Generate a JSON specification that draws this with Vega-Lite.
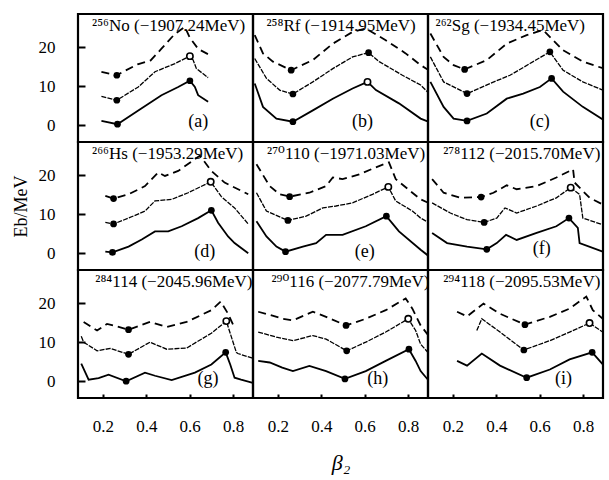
{
  "$schema": "https://vega.github.io/schema/vega-lite/v6.json",
  "background": "white",
  "padding": {"left": 10, "top": 12, "right": 0, "bottom": 5},
  "datasets": {"d": [
    {"p":"a","k":"meta","title":"²⁵⁶No (−1907.24MeV)","tag":"(a)"},
    {"p":"b","k":"meta","title":"²⁵⁸Rf (−1914.95MeV)","tag":"(b)"},
    {"p":"c","k":"meta","title":"²⁶²Sg (−1934.45MeV)","tag":"(c)"},
    {"p":"d","k":"meta","title":"²⁶⁶Hs (−1953.29MeV)","tag":"(d)"},
    {"p":"e","k":"meta","title":"²⁷⁰110 (−1971.03MeV)","tag":"(e)"},
    {"p":"f","k":"meta","title":"²⁷⁸112 (−2015.70MeV)","tag":"(f)"},
    {"p":"g","k":"meta","title":"²⁸⁴114 (−2045.96MeV)","tag":"(g)"},
    {"p":"h","k":"meta","title":"²⁹⁰116 (−2077.79MeV)","tag":"(h)"},
    {"p":"i","k":"meta","title":"²⁹⁴118 (−2095.53MeV)","tag":"(i)"},

    {"p":"a","k":"b","x":0.193,"y":1.1},{"p":"a","k":"b","x":0.267,"y":0.26},{"p":"a","k":"b","x":0.363,"y":3.8},{"p":"a","k":"b","x":0.47,"y":7.7},{"p":"a","k":"b","x":0.547,"y":9.8},{"p":"a","k":"b","x":0.601,"y":11.4},{"p":"a","k":"b","x":0.624,"y":9.8},{"p":"a","k":"b","x":0.639,"y":7.7},{"p":"a","k":"b","x":0.685,"y":6.0},
    {"p":"a","k":"m","x":0.193,"y":7.4},{"p":"a","k":"m","x":0.264,"y":6.4},{"p":"a","k":"m","x":0.363,"y":9.8},{"p":"a","k":"m","x":0.44,"y":13.7},{"p":"a","k":"m","x":0.532,"y":15.8},{"p":"a","k":"m","x":0.601,"y":17.7},{"p":"a","k":"m","x":0.616,"y":16.7},{"p":"a","k":"m","x":0.631,"y":14.5},{"p":"a","k":"m","x":0.685,"y":12.2},
    {"p":"a","k":"t","x":0.193,"y":13.7},{"p":"a","k":"t","x":0.264,"y":12.8},{"p":"a","k":"t","x":0.3,"y":13.9},{"p":"a","k":"t","x":0.36,"y":15.6},{"p":"a","k":"t","x":0.42,"y":16.6},{"p":"a","k":"t","x":0.47,"y":19.6},{"p":"a","k":"t","x":0.53,"y":23.3},{"p":"a","k":"t","x":0.578,"y":25.2},{"p":"a","k":"t","x":0.6,"y":22.5},{"p":"a","k":"t","x":0.64,"y":19.5},{"p":"a","k":"t","x":0.685,"y":18.2},
    {"p":"a","k":"f","x":0.264,"y":12.8},{"p":"a","k":"f","x":0.264,"y":6.4},{"p":"a","k":"f","x":0.267,"y":0.26},{"p":"a","k":"o","x":0.601,"y":17.7},{"p":"a","k":"f","x":0.601,"y":11.4},

    {"p":"b","k":"b","x":0.093,"y":10.7},{"p":"b","k":"b","x":0.131,"y":4.7},{"p":"b","k":"b","x":0.193,"y":1.7},{"p":"b","k":"b","x":0.269,"y":0.9},{"p":"b","k":"b","x":0.361,"y":3.8},{"p":"b","k":"b","x":0.453,"y":6.8},{"p":"b","k":"b","x":0.544,"y":9.4},{"p":"b","k":"b","x":0.613,"y":11.1},{"p":"b","k":"b","x":0.652,"y":9.0},{"p":"b","k":"b","x":0.758,"y":5.6},{"p":"b","k":"b","x":0.858,"y":1.7},{"p":"b","k":"b","x":0.89,"y":1.0},
    {"p":"b","k":"m","x":0.093,"y":17.1},{"p":"b","k":"m","x":0.147,"y":12.0},{"p":"b","k":"m","x":0.208,"y":9.0},{"p":"b","k":"m","x":0.269,"y":8.0},{"p":"b","k":"m","x":0.361,"y":11.1},{"p":"b","k":"m","x":0.453,"y":14.5},{"p":"b","k":"m","x":0.544,"y":17.5},{"p":"b","k":"m","x":0.618,"y":18.6},{"p":"b","k":"m","x":0.667,"y":16.3},{"p":"b","k":"m","x":0.774,"y":12.8},{"p":"b","k":"m","x":0.858,"y":10.3},{"p":"b","k":"m","x":0.89,"y":8.5},
    {"p":"b","k":"t","x":0.093,"y":23.1},{"p":"b","k":"t","x":0.131,"y":18.4},{"p":"b","k":"t","x":0.177,"y":16.3},{"p":"b","k":"t","x":0.261,"y":14.1},{"p":"b","k":"t","x":0.361,"y":16.7},{"p":"b","k":"t","x":0.453,"y":20.9},{"p":"b","k":"t","x":0.544,"y":23.9},{"p":"b","k":"t","x":0.605,"y":24.8},{"p":"b","k":"t","x":0.697,"y":21.8},{"p":"b","k":"t","x":0.789,"y":18.4},{"p":"b","k":"t","x":0.858,"y":15.4},{"p":"b","k":"t","x":0.89,"y":14.3},
    {"p":"b","k":"f","x":0.261,"y":14.1},{"p":"b","k":"f","x":0.269,"y":8.0},{"p":"b","k":"f","x":0.269,"y":0.9},{"p":"b","k":"f","x":0.618,"y":18.6},{"p":"b","k":"o","x":0.613,"y":11.1},

    {"p":"c","k":"b","x":0.096,"y":11.1},{"p":"c","k":"b","x":0.157,"y":4.7},{"p":"c","k":"b","x":0.203,"y":1.7},{"p":"c","k":"b","x":0.265,"y":1.1},{"p":"c","k":"b","x":0.356,"y":3.0},{"p":"c","k":"b","x":0.448,"y":6.8},{"p":"c","k":"b","x":0.524,"y":8.1},{"p":"c","k":"b","x":0.601,"y":9.8},{"p":"c","k":"b","x":0.655,"y":12.0},{"p":"c","k":"b","x":0.708,"y":8.6},{"p":"c","k":"b","x":0.799,"y":4.7},{"p":"c","k":"b","x":0.891,"y":1.5},
    {"p":"c","k":"m","x":0.096,"y":17.5},{"p":"c","k":"m","x":0.157,"y":11.1},{"p":"c","k":"m","x":0.265,"y":8.1},{"p":"c","k":"m","x":0.371,"y":10.7},{"p":"c","k":"m","x":0.463,"y":12.8},{"p":"c","k":"m","x":0.555,"y":15.8},{"p":"c","k":"m","x":0.647,"y":18.8},{"p":"c","k":"m","x":0.708,"y":14.1},{"p":"c","k":"m","x":0.799,"y":11.1},{"p":"c","k":"m","x":0.891,"y":9.0},
    {"p":"c","k":"t","x":0.096,"y":23.5},{"p":"c","k":"t","x":0.157,"y":17.5},{"p":"c","k":"t","x":0.203,"y":15.4},{"p":"c","k":"t","x":0.254,"y":14.3},{"p":"c","k":"t","x":0.356,"y":16.7},{"p":"c","k":"t","x":0.448,"y":20.9},{"p":"c","k":"t","x":0.54,"y":23.1},{"p":"c","k":"t","x":0.616,"y":24.4},{"p":"c","k":"t","x":0.708,"y":19.2},{"p":"c","k":"t","x":0.799,"y":16.3},{"p":"c","k":"t","x":0.891,"y":14.6},
    {"p":"c","k":"f","x":0.254,"y":14.3},{"p":"c","k":"f","x":0.265,"y":8.1},{"p":"c","k":"f","x":0.265,"y":1.1},{"p":"c","k":"f","x":0.647,"y":18.8},{"p":"c","k":"f","x":0.655,"y":12.0},

    {"p":"d","k":"b","x":0.211,"y":0.4},{"p":"d","k":"b","x":0.244,"y":0.2},{"p":"d","k":"b","x":0.318,"y":1.7},{"p":"d","k":"b","x":0.379,"y":3.5},{"p":"d","k":"b","x":0.44,"y":5.6},{"p":"d","k":"b","x":0.501,"y":5.6},{"p":"d","k":"b","x":0.563,"y":6.9},{"p":"d","k":"b","x":0.639,"y":9.0},{"p":"d","k":"b","x":0.7,"y":11.0},{"p":"d","k":"b","x":0.731,"y":7.8},{"p":"d","k":"b","x":0.777,"y":4.3},{"p":"d","k":"b","x":0.807,"y":2.6},{"p":"d","k":"b","x":0.87,"y":0.0},
    {"p":"d","k":"m","x":0.211,"y":7.9},{"p":"d","k":"m","x":0.249,"y":7.5},{"p":"d","k":"m","x":0.318,"y":9.0},{"p":"d","k":"m","x":0.394,"y":10.8},{"p":"d","k":"m","x":0.44,"y":13.4},{"p":"d","k":"m","x":0.517,"y":13.8},{"p":"d","k":"m","x":0.593,"y":15.5},{"p":"d","k":"m","x":0.697,"y":18.3},{"p":"d","k":"m","x":0.746,"y":14.5},{"p":"d","k":"m","x":0.807,"y":11.6},{"p":"d","k":"m","x":0.87,"y":7.5},
    {"p":"d","k":"t","x":0.211,"y":14.7},{"p":"d","k":"t","x":0.249,"y":14.0},{"p":"d","k":"t","x":0.318,"y":15.1},{"p":"d","k":"t","x":0.394,"y":17.2},{"p":"d","k":"t","x":0.455,"y":20.7},{"p":"d","k":"t","x":0.486,"y":19.8},{"p":"d","k":"t","x":0.547,"y":21.1},{"p":"d","k":"t","x":0.624,"y":24.1},{"p":"d","k":"t","x":0.647,"y":25.0},{"p":"d","k":"t","x":0.7,"y":21.1},{"p":"d","k":"t","x":0.761,"y":18.1},{"p":"d","k":"t","x":0.87,"y":15.1},
    {"p":"d","k":"f","x":0.249,"y":14.0},{"p":"d","k":"f","x":0.249,"y":7.5},{"p":"d","k":"f","x":0.244,"y":0.2},{"p":"d","k":"o","x":0.697,"y":18.3},{"p":"d","k":"f","x":0.7,"y":11.0},

    {"p":"e","k":"b","x":0.101,"y":8.2},{"p":"e","k":"b","x":0.147,"y":4.3},{"p":"e","k":"b","x":0.193,"y":1.7},{"p":"e","k":"b","x":0.235,"y":0.4},{"p":"e","k":"b","x":0.315,"y":1.7},{"p":"e","k":"b","x":0.376,"y":2.6},{"p":"e","k":"b","x":0.422,"y":4.7},{"p":"e","k":"b","x":0.498,"y":4.7},{"p":"e","k":"b","x":0.605,"y":6.9},{"p":"e","k":"b","x":0.7,"y":9.5},{"p":"e","k":"b","x":0.758,"y":5.6},{"p":"e","k":"b","x":0.858,"y":0.9},{"p":"e","k":"b","x":0.89,"y":-0.5},
    {"p":"e","k":"m","x":0.101,"y":15.5},{"p":"e","k":"m","x":0.147,"y":10.8},{"p":"e","k":"m","x":0.246,"y":8.4},{"p":"e","k":"m","x":0.33,"y":9.5},{"p":"e","k":"m","x":0.407,"y":11.6},{"p":"e","k":"m","x":0.468,"y":12.1},{"p":"e","k":"m","x":0.544,"y":12.9},{"p":"e","k":"m","x":0.636,"y":15.1},{"p":"e","k":"m","x":0.709,"y":17.0},{"p":"e","k":"m","x":0.743,"y":13.4},{"p":"e","k":"m","x":0.82,"y":10.8},{"p":"e","k":"m","x":0.858,"y":9.0},{"p":"e","k":"m","x":0.89,"y":8.0},
    {"p":"e","k":"t","x":0.101,"y":22.8},{"p":"e","k":"t","x":0.162,"y":17.2},{"p":"e","k":"t","x":0.208,"y":15.1},{"p":"e","k":"t","x":0.254,"y":14.5},{"p":"e","k":"t","x":0.345,"y":15.5},{"p":"e","k":"t","x":0.422,"y":17.2},{"p":"e","k":"t","x":0.453,"y":19.4},{"p":"e","k":"t","x":0.498,"y":19.0},{"p":"e","k":"t","x":0.575,"y":20.2},{"p":"e","k":"t","x":0.651,"y":22.0},{"p":"e","k":"t","x":0.712,"y":23.3},{"p":"e","k":"t","x":0.743,"y":19.0},{"p":"e","k":"t","x":0.82,"y":15.5},{"p":"e","k":"t","x":0.858,"y":13.8},{"p":"e","k":"t","x":0.89,"y":13.0},
    {"p":"e","k":"f","x":0.254,"y":14.5},{"p":"e","k":"f","x":0.246,"y":8.4},{"p":"e","k":"f","x":0.235,"y":0.4},{"p":"e","k":"o","x":0.709,"y":17.0},{"p":"e","k":"f","x":0.7,"y":9.5},

    {"p":"f","k":"b","x":0.104,"y":5.2},{"p":"f","k":"b","x":0.173,"y":2.6},{"p":"f","k":"b","x":0.265,"y":1.7},{"p":"f","k":"b","x":0.356,"y":1.0},{"p":"f","k":"b","x":0.402,"y":2.6},{"p":"f","k":"b","x":0.445,"y":4.7},{"p":"f","k":"b","x":0.494,"y":3.4},{"p":"f","k":"b","x":0.586,"y":5.2},{"p":"f","k":"b","x":0.677,"y":6.9},{"p":"f","k":"b","x":0.735,"y":9.0},{"p":"f","k":"b","x":0.776,"y":6.5},{"p":"f","k":"b","x":0.784,"y":2.6},{"p":"f","k":"b","x":0.891,"y":0.4},
    {"p":"f","k":"m","x":0.104,"y":12.9},{"p":"f","k":"m","x":0.188,"y":10.3},{"p":"f","k":"m","x":0.265,"y":8.6},{"p":"f","k":"m","x":0.344,"y":7.9},{"p":"f","k":"m","x":0.402,"y":9.0},{"p":"f","k":"m","x":0.44,"y":11.6},{"p":"f","k":"m","x":0.494,"y":10.3},{"p":"f","k":"m","x":0.586,"y":12.1},{"p":"f","k":"m","x":0.677,"y":14.2},{"p":"f","k":"m","x":0.743,"y":16.8},{"p":"f","k":"m","x":0.784,"y":15.1},{"p":"f","k":"m","x":0.799,"y":9.0},{"p":"f","k":"m","x":0.891,"y":7.3},
    {"p":"f","k":"t","x":0.104,"y":19.0},{"p":"f","k":"t","x":0.157,"y":15.5},{"p":"f","k":"t","x":0.234,"y":14.2},{"p":"f","k":"t","x":0.33,"y":14.4},{"p":"f","k":"t","x":0.387,"y":15.5},{"p":"f","k":"t","x":0.448,"y":17.4},{"p":"f","k":"t","x":0.494,"y":16.4},{"p":"f","k":"t","x":0.586,"y":17.2},{"p":"f","k":"t","x":0.677,"y":19.4},{"p":"f","k":"t","x":0.754,"y":21.5},{"p":"f","k":"t","x":0.761,"y":18.1},{"p":"f","k":"t","x":0.83,"y":14.2},{"p":"f","k":"t","x":0.891,"y":12.5},
    {"p":"f","k":"f","x":0.33,"y":14.4},{"p":"f","k":"f","x":0.344,"y":7.9},{"p":"f","k":"f","x":0.356,"y":1.0},{"p":"f","k":"o","x":0.743,"y":16.8},{"p":"f","k":"f","x":0.735,"y":9.0},

    {"p":"g","k":"b","x":0.1,"y":4.5},{"p":"g","k":"b","x":0.134,"y":0.4},{"p":"g","k":"b","x":0.18,"y":0.8},{"p":"g","k":"b","x":0.226,"y":1.7},{"p":"g","k":"b","x":0.307,"y":0.0},{"p":"g","k":"b","x":0.394,"y":2.2},{"p":"g","k":"b","x":0.44,"y":1.4},{"p":"g","k":"b","x":0.517,"y":0.3},{"p":"g","k":"b","x":0.624,"y":2.2},{"p":"g","k":"b","x":0.7,"y":4.3},{"p":"g","k":"b","x":0.766,"y":7.4},{"p":"g","k":"b","x":0.787,"y":4.3},{"p":"g","k":"b","x":0.807,"y":0.9},{"p":"g","k":"b","x":0.837,"y":0.4},{"p":"g","k":"b","x":0.891,"y":-0.4},
    {"p":"g","k":"m","x":0.1,"y":11.5},{"p":"g","k":"m","x":0.111,"y":10.0},{"p":"g","k":"m","x":0.173,"y":7.8},{"p":"g","k":"m","x":0.234,"y":8.4},{"p":"g","k":"m","x":0.318,"y":6.9},{"p":"g","k":"m","x":0.417,"y":10.0},{"p":"g","k":"m","x":0.494,"y":8.2},{"p":"g","k":"m","x":0.586,"y":8.5},{"p":"g","k":"m","x":0.7,"y":12.3},{"p":"g","k":"m","x":0.769,"y":15.4},{"p":"g","k":"m","x":0.815,"y":7.4},{"p":"g","k":"m","x":0.822,"y":7.1},{"p":"g","k":"m","x":0.891,"y":5.9},
    {"p":"g","k":"t","x":0.111,"y":15.2},{"p":"g","k":"t","x":0.173,"y":13.0},{"p":"g","k":"t","x":0.219,"y":14.7},{"p":"g","k":"t","x":0.249,"y":14.3},{"p":"g","k":"t","x":0.318,"y":13.2},{"p":"g","k":"t","x":0.417,"y":15.2},{"p":"g","k":"t","x":0.494,"y":13.9},{"p":"g","k":"t","x":0.586,"y":15.2},{"p":"g","k":"t","x":0.7,"y":18.2},{"p":"g","k":"t","x":0.743,"y":20.4},{"p":"g","k":"t","x":0.777,"y":17.3},{"p":"g","k":"t","x":0.8,"y":14.5},
    {"p":"g","k":"f","x":0.318,"y":13.2},{"p":"g","k":"f","x":0.318,"y":6.9},{"p":"g","k":"f","x":0.307,"y":0.0},{"p":"g","k":"o","x":0.769,"y":15.4},{"p":"g","k":"f","x":0.766,"y":7.4},

    {"p":"h","k":"b","x":0.109,"y":5.2},{"p":"h","k":"b","x":0.162,"y":4.8},{"p":"h","k":"b","x":0.22,"y":3.5},{"p":"h","k":"b","x":0.269,"y":2.6},{"p":"h","k":"b","x":0.345,"y":3.9},{"p":"h","k":"b","x":0.422,"y":2.6},{"p":"h","k":"b","x":0.509,"y":0.6},{"p":"h","k":"b","x":0.605,"y":2.6},{"p":"h","k":"b","x":0.697,"y":5.2},{"p":"h","k":"b","x":0.804,"y":8.2},{"p":"h","k":"b","x":0.835,"y":5.2},{"p":"h","k":"b","x":0.858,"y":2.6},{"p":"h","k":"b","x":0.89,"y":0.5},
    {"p":"h","k":"m","x":0.109,"y":12.6},{"p":"h","k":"m","x":0.193,"y":11.3},{"p":"h","k":"m","x":0.269,"y":10.4},{"p":"h","k":"m","x":0.361,"y":11.7},{"p":"h","k":"m","x":0.422,"y":10.8},{"p":"h","k":"m","x":0.517,"y":7.8},{"p":"h","k":"m","x":0.605,"y":10.0},{"p":"h","k":"m","x":0.697,"y":12.6},{"p":"h","k":"m","x":0.801,"y":16.0},{"p":"h","k":"m","x":0.835,"y":13.0},{"p":"h","k":"m","x":0.858,"y":9.5},{"p":"h","k":"m","x":0.89,"y":7.5},
    {"p":"h","k":"t","x":0.109,"y":17.8},{"p":"h","k":"t","x":0.162,"y":17.0},{"p":"h","k":"t","x":0.223,"y":16.0},{"p":"h","k":"t","x":0.269,"y":15.6},{"p":"h","k":"t","x":0.361,"y":17.8},{"p":"h","k":"t","x":0.422,"y":16.5},{"p":"h","k":"t","x":0.514,"y":14.3},{"p":"h","k":"t","x":0.605,"y":16.0},{"p":"h","k":"t","x":0.697,"y":18.2},{"p":"h","k":"t","x":0.789,"y":21.2},{"p":"h","k":"t","x":0.82,"y":18.6},{"p":"h","k":"t","x":0.858,"y":14.3},{"p":"h","k":"t","x":0.89,"y":12.0},
    {"p":"h","k":"f","x":0.514,"y":14.3},{"p":"h","k":"f","x":0.517,"y":7.8},{"p":"h","k":"f","x":0.509,"y":0.6},{"p":"h","k":"o","x":0.801,"y":16.0},{"p":"h","k":"f","x":0.804,"y":8.2},

    {"p":"i","k":"b","x":0.219,"y":5.2},{"p":"i","k":"b","x":0.265,"y":4.0},{"p":"i","k":"b","x":0.333,"y":7.1},{"p":"i","k":"b","x":0.417,"y":4.0},{"p":"i","k":"b","x":0.54,"y":0.9},{"p":"i","k":"b","x":0.647,"y":3.0},{"p":"i","k":"b","x":0.738,"y":5.6},{"p":"i","k":"b","x":0.842,"y":7.4},{"p":"i","k":"b","x":0.891,"y":4.3},
    {"p":"i","k":"m","x":0.31,"y":13.0},{"p":"i","k":"m","x":0.333,"y":16.0},{"p":"i","k":"m","x":0.417,"y":12.6},{"p":"i","k":"m","x":0.527,"y":8.0},{"p":"i","k":"m","x":0.647,"y":10.4},{"p":"i","k":"m","x":0.738,"y":12.6},{"p":"i","k":"m","x":0.83,"y":14.9},{"p":"i","k":"m","x":0.891,"y":12.6},
    {"p":"i","k":"t","x":0.219,"y":17.8},{"p":"i","k":"t","x":0.265,"y":16.6},{"p":"i","k":"t","x":0.341,"y":19.9},{"p":"i","k":"t","x":0.417,"y":17.3},{"p":"i","k":"t","x":0.532,"y":14.5},{"p":"i","k":"t","x":0.647,"y":16.5},{"p":"i","k":"t","x":0.738,"y":18.6},{"p":"i","k":"t","x":0.815,"y":21.7},{"p":"i","k":"t","x":0.845,"y":18.2},{"p":"i","k":"t","x":0.891,"y":16.0},
    {"p":"i","k":"f","x":0.532,"y":14.5},{"p":"i","k":"f","x":0.527,"y":8.0},{"p":"i","k":"f","x":0.54,"y":0.9},{"p":"i","k":"o","x":0.83,"y":14.9},{"p":"i","k":"f","x":0.842,"y":7.4}
  ]},
  "data": {"name": "d"},
  "columns": 3,
  "spacing": 0,
  "bounds": "flush",
  "resolve": {"scale": {"x": "independent", "y": "independent"}},
  "concat": [
    {"width": 175, "height": 128, "transform": [{"filter": "datum.p === 'a'"}],
     "layer": [
      {"encoding": {
         "x": {"field": "x", "type": "quantitative", "scale": {"domain": [0.085, 0.892], "nice": false, "zero": false}, "axis": null},
         "y": {"field": "y", "type": "quantitative", "scale": {"domain": [-4.3, 28.5], "nice": false, "zero": false},
           "axis": {"values": [0,5,10,15,20,25], "labelExpr": "datum.value % 10 === 0 ? datum.label : ''", "tickSize": {"condition": {"test": "datum.value % 10 === 0", "value": -7}, "value": -4}, "labelPadding": 30, "title": null}}},
       "layer": [
        {"transform": [{"filter": "datum.k === 'b'"}], "mark": {"type": "line", "color": "black", "strokeWidth": 1.8, "clip": true}},
        {"transform": [{"filter": "datum.k === 'm'"}], "mark": {"type": "line", "color": "black", "strokeWidth": 1.3, "strokeDash": [5, 1.2], "clip": true}},
        {"transform": [{"filter": "datum.k === 't'"}], "mark": {"type": "line", "color": "black", "strokeWidth": 1.8, "strokeDash": [8, 5], "clip": true}},
        {"transform": [{"filter": "datum.k === 'f'"}], "mark": {"type": "point", "shape": "circle", "filled": true, "color": "black", "size": 45, "opacity": 1}},
        {"transform": [{"filter": "datum.k === 'o'"}], "mark": {"type": "point", "shape": "circle", "fill": "white", "stroke": "black", "strokeWidth": 1.6, "size": 40, "opacity": 1}}
       ]},
      {"transform": [{"filter": "datum.k === 'meta'"}], "mark": {"type": "text", "align": "left", "baseline": "middle", "font": "Liberation Serif, DejaVu Serif", "fontSize": 17, "color": "black"}, "encoding": {"x": {"datum": 0.15, "axis": null}, "y": {"datum": 25.5}, "text": {"field": "title"}}},
      {"transform": [{"filter": "datum.k === 'meta'"}], "mark": {"type": "text", "align": "center", "baseline": "middle", "font": "Liberation Serif", "fontSize": 18, "color": "black"}, "encoding": {"x": {"datum": 0.64, "axis": null}, "y": {"datum": 0.8}, "text": {"field": "tag"}}}
     ]},
    {"width": 175, "height": 128, "transform": [{"filter": "datum.p === 'b'"}],
     "layer": [
      {"encoding": {
         "x": {"field": "x", "type": "quantitative", "scale": {"domain": [0.085, 0.892], "nice": false, "zero": false}, "axis": null},
         "y": {"field": "y", "type": "quantitative", "scale": {"domain": [-4.3, 28.5], "nice": false, "zero": false}, "axis": null}},
       "layer": [
        {"transform": [{"filter": "datum.k === 'b'"}], "mark": {"type": "line", "color": "black", "strokeWidth": 1.8, "clip": true}},
        {"transform": [{"filter": "datum.k === 'm'"}], "mark": {"type": "line", "color": "black", "strokeWidth": 1.3, "strokeDash": [5, 1.2], "clip": true}},
        {"transform": [{"filter": "datum.k === 't'"}], "mark": {"type": "line", "color": "black", "strokeWidth": 1.8, "strokeDash": [8, 5], "clip": true}},
        {"transform": [{"filter": "datum.k === 'f'"}], "mark": {"type": "point", "shape": "circle", "filled": true, "color": "black", "size": 45, "opacity": 1}},
        {"transform": [{"filter": "datum.k === 'o'"}], "mark": {"type": "point", "shape": "circle", "fill": "white", "stroke": "black", "strokeWidth": 1.6, "size": 40, "opacity": 1}}
       ]},
      {"transform": [{"filter": "datum.k === 'meta'"}], "mark": {"type": "text", "align": "left", "baseline": "middle", "font": "Liberation Serif, DejaVu Serif", "fontSize": 17, "color": "black"}, "encoding": {"x": {"datum": 0.147, "axis": null}, "y": {"datum": 25.5, "axis": null}, "text": {"field": "title"}}},
      {"transform": [{"filter": "datum.k === 'meta'"}], "mark": {"type": "text", "align": "center", "baseline": "middle", "font": "Liberation Serif", "fontSize": 18, "color": "black"}, "encoding": {"x": {"datum": 0.59, "axis": null}, "y": {"datum": 0.8, "axis": null}, "text": {"field": "tag"}}}
     ]},
    {"width": 175, "height": 128, "transform": [{"filter": "datum.p === 'c'"}],
     "layer": [
      {"encoding": {
         "x": {"field": "x", "type": "quantitative", "scale": {"domain": [0.085, 0.892], "nice": false, "zero": false}, "axis": null},
         "y": {"field": "y", "type": "quantitative", "scale": {"domain": [-4.3, 28.5], "nice": false, "zero": false}, "axis": null}},
       "layer": [
        {"transform": [{"filter": "datum.k === 'b'"}], "mark": {"type": "line", "color": "black", "strokeWidth": 1.8, "clip": true}},
        {"transform": [{"filter": "datum.k === 'm'"}], "mark": {"type": "line", "color": "black", "strokeWidth": 1.3, "strokeDash": [5, 1.2], "clip": true}},
        {"transform": [{"filter": "datum.k === 't'"}], "mark": {"type": "line", "color": "black", "strokeWidth": 1.8, "strokeDash": [8, 5], "clip": true}},
        {"transform": [{"filter": "datum.k === 'f'"}], "mark": {"type": "point", "shape": "circle", "filled": true, "color": "black", "size": 45, "opacity": 1}},
        {"transform": [{"filter": "datum.k === 'o'"}], "mark": {"type": "point", "shape": "circle", "fill": "white", "stroke": "black", "strokeWidth": 1.6, "size": 40, "opacity": 1}}
       ]},
      {"transform": [{"filter": "datum.k === 'meta'"}], "mark": {"type": "text", "align": "left", "baseline": "middle", "font": "Liberation Serif, DejaVu Serif", "fontSize": 17, "color": "black"}, "encoding": {"x": {"datum": 0.12, "axis": null}, "y": {"datum": 25.5, "axis": null}, "text": {"field": "title"}}},
      {"transform": [{"filter": "datum.k === 'meta'"}], "mark": {"type": "text", "align": "center", "baseline": "middle", "font": "Liberation Serif", "fontSize": 18, "color": "black"}, "encoding": {"x": {"datum": 0.6, "axis": null}, "y": {"datum": 0.8, "axis": null}, "text": {"field": "tag"}}}
     ]},
    {"width": 175, "height": 128, "transform": [{"filter": "datum.p === 'd'"}],
     "layer": [
      {"encoding": {
         "x": {"field": "x", "type": "quantitative", "scale": {"domain": [0.085, 0.892], "nice": false, "zero": false}, "axis": null},
         "y": {"field": "y", "type": "quantitative", "scale": {"domain": [-4.3, 28.5], "nice": false, "zero": false},
           "axis": {"values": [0,5,10,15,20,25], "labelExpr": "datum.value % 10 === 0 ? datum.label : ''", "tickSize": {"condition": {"test": "datum.value % 10 === 0", "value": -7}, "value": -4}, "labelPadding": 30, "title": "Eb/MeV", "titlePadding": 8}}},
       "layer": [
        {"transform": [{"filter": "datum.k === 'b'"}], "mark": {"type": "line", "color": "black", "strokeWidth": 1.8, "clip": true}},
        {"transform": [{"filter": "datum.k === 'm'"}], "mark": {"type": "line", "color": "black", "strokeWidth": 1.3, "strokeDash": [5, 1.2], "clip": true}},
        {"transform": [{"filter": "datum.k === 't'"}], "mark": {"type": "line", "color": "black", "strokeWidth": 1.8, "strokeDash": [8, 5], "clip": true}},
        {"transform": [{"filter": "datum.k === 'f'"}], "mark": {"type": "point", "shape": "circle", "filled": true, "color": "black", "size": 45, "opacity": 1}},
        {"transform": [{"filter": "datum.k === 'o'"}], "mark": {"type": "point", "shape": "circle", "fill": "white", "stroke": "black", "strokeWidth": 1.6, "size": 40, "opacity": 1}}
       ]},
      {"transform": [{"filter": "datum.k === 'meta'"}], "mark": {"type": "text", "align": "left", "baseline": "middle", "font": "Liberation Serif, DejaVu Serif", "fontSize": 17, "color": "black"}, "encoding": {"x": {"datum": 0.15, "axis": null}, "y": {"datum": 25.5}, "text": {"field": "title"}}},
      {"transform": [{"filter": "datum.k === 'meta'"}], "mark": {"type": "text", "align": "center", "baseline": "middle", "font": "Liberation Serif", "fontSize": 18, "color": "black"}, "encoding": {"x": {"datum": 0.67, "axis": null}, "y": {"datum": 0.3}, "text": {"field": "tag"}}}
     ]},
    {"width": 175, "height": 128, "transform": [{"filter": "datum.p === 'e'"}],
     "layer": [
      {"encoding": {
         "x": {"field": "x", "type": "quantitative", "scale": {"domain": [0.085, 0.892], "nice": false, "zero": false}, "axis": null},
         "y": {"field": "y", "type": "quantitative", "scale": {"domain": [-4.3, 28.5], "nice": false, "zero": false}, "axis": null}},
       "layer": [
        {"transform": [{"filter": "datum.k === 'b'"}], "mark": {"type": "line", "color": "black", "strokeWidth": 1.8, "clip": true}},
        {"transform": [{"filter": "datum.k === 'm'"}], "mark": {"type": "line", "color": "black", "strokeWidth": 1.3, "strokeDash": [5, 1.2], "clip": true}},
        {"transform": [{"filter": "datum.k === 't'"}], "mark": {"type": "line", "color": "black", "strokeWidth": 1.8, "strokeDash": [8, 5], "clip": true}},
        {"transform": [{"filter": "datum.k === 'f'"}], "mark": {"type": "point", "shape": "circle", "filled": true, "color": "black", "size": 45, "opacity": 1}},
        {"transform": [{"filter": "datum.k === 'o'"}], "mark": {"type": "point", "shape": "circle", "fill": "white", "stroke": "black", "strokeWidth": 1.6, "size": 40, "opacity": 1}}
       ]},
      {"transform": [{"filter": "datum.k === 'meta'"}], "mark": {"type": "text", "align": "left", "baseline": "middle", "font": "Liberation Serif, DejaVu Serif", "fontSize": 17, "color": "black"}, "encoding": {"x": {"datum": 0.15, "axis": null}, "y": {"datum": 25.5, "axis": null}, "text": {"field": "title"}}},
      {"transform": [{"filter": "datum.k === 'meta'"}], "mark": {"type": "text", "align": "center", "baseline": "middle", "font": "Liberation Serif", "fontSize": 18, "color": "black"}, "encoding": {"x": {"datum": 0.6, "axis": null}, "y": {"datum": 0.3, "axis": null}, "text": {"field": "tag"}}}
     ]},
    {"width": 175, "height": 128, "transform": [{"filter": "datum.p === 'f'"}],
     "layer": [
      {"encoding": {
         "x": {"field": "x", "type": "quantitative", "scale": {"domain": [0.085, 0.892], "nice": false, "zero": false}, "axis": null},
         "y": {"field": "y", "type": "quantitative", "scale": {"domain": [-4.3, 28.5], "nice": false, "zero": false}, "axis": null}},
       "layer": [
        {"transform": [{"filter": "datum.k === 'b'"}], "mark": {"type": "line", "color": "black", "strokeWidth": 1.8, "clip": true}},
        {"transform": [{"filter": "datum.k === 'm'"}], "mark": {"type": "line", "color": "black", "strokeWidth": 1.3, "strokeDash": [5, 1.2], "clip": true}},
        {"transform": [{"filter": "datum.k === 't'"}], "mark": {"type": "line", "color": "black", "strokeWidth": 1.8, "strokeDash": [8, 5], "clip": true}},
        {"transform": [{"filter": "datum.k === 'f'"}], "mark": {"type": "point", "shape": "circle", "filled": true, "color": "black", "size": 45, "opacity": 1}},
        {"transform": [{"filter": "datum.k === 'o'"}], "mark": {"type": "point", "shape": "circle", "fill": "white", "stroke": "black", "strokeWidth": 1.6, "size": 40, "opacity": 1}}
       ]},
      {"transform": [{"filter": "datum.k === 'meta'"}], "mark": {"type": "text", "align": "left", "baseline": "middle", "font": "Liberation Serif, DejaVu Serif", "fontSize": 17, "color": "black"}, "encoding": {"x": {"datum": 0.155, "axis": null}, "y": {"datum": 25.5, "axis": null}, "text": {"field": "title"}}},
      {"transform": [{"filter": "datum.k === 'meta'"}], "mark": {"type": "text", "align": "center", "baseline": "middle", "font": "Liberation Serif", "fontSize": 18, "color": "black"}, "encoding": {"x": {"datum": 0.61, "axis": null}, "y": {"datum": 1.0, "axis": null}, "text": {"field": "tag"}}}
     ]},
    {"width": 175, "height": 128, "transform": [{"filter": "datum.p === 'g'"}],
     "layer": [
      {"encoding": {
         "x": {"field": "x", "type": "quantitative", "scale": {"domain": [0.085, 0.892], "nice": false, "zero": false},
           "axis": {"values": [0.2,0.3,0.4,0.5,0.6,0.7,0.8], "format": ".1f", "labelExpr": "indexof(['0.2','0.4','0.6','0.8'], datum.label) >= 0 ? datum.label : ''", "tickSize": -4, "labelPadding": 24, "title": null}},
         "y": {"field": "y", "type": "quantitative", "scale": {"domain": [-4.3, 28.5], "nice": false, "zero": false},
           "axis": {"values": [0,5,10,15,20,25], "labelExpr": "datum.value % 10 === 0 ? datum.label : ''", "tickSize": {"condition": {"test": "datum.value % 10 === 0", "value": -7}, "value": -4}, "labelPadding": 30, "title": null}}},
       "layer": [
        {"transform": [{"filter": "datum.k === 'b'"}], "mark": {"type": "line", "color": "black", "strokeWidth": 1.8, "clip": true}},
        {"transform": [{"filter": "datum.k === 'm'"}], "mark": {"type": "line", "color": "black", "strokeWidth": 1.3, "strokeDash": [5, 1.2], "clip": true}},
        {"transform": [{"filter": "datum.k === 't'"}], "mark": {"type": "line", "color": "black", "strokeWidth": 1.8, "strokeDash": [8, 5], "clip": true}},
        {"transform": [{"filter": "datum.k === 'f'"}], "mark": {"type": "point", "shape": "circle", "filled": true, "color": "black", "size": 45, "opacity": 1}},
        {"transform": [{"filter": "datum.k === 'o'"}], "mark": {"type": "point", "shape": "circle", "fill": "white", "stroke": "black", "strokeWidth": 1.6, "size": 40, "opacity": 1}}
       ]},
      {"transform": [{"filter": "datum.k === 'meta'"}], "mark": {"type": "text", "align": "left", "baseline": "middle", "font": "Liberation Serif, DejaVu Serif", "fontSize": 17, "color": "black"}, "encoding": {"x": {"datum": 0.165}, "y": {"datum": 25.5}, "text": {"field": "title"}}},
      {"transform": [{"filter": "datum.k === 'meta'"}], "mark": {"type": "text", "align": "center", "baseline": "middle", "font": "Liberation Serif", "fontSize": 18, "color": "black"}, "encoding": {"x": {"datum": 0.685}, "y": {"datum": 0.5}, "text": {"field": "tag"}}}
     ]},
    {"width": 175, "height": 128, "transform": [{"filter": "datum.p === 'h'"}],
     "layer": [
      {"encoding": {
         "x": {"field": "x", "type": "quantitative", "scale": {"domain": [0.085, 0.892], "nice": false, "zero": false},
           "axis": {"values": [0.2,0.3,0.4,0.5,0.6,0.7,0.8], "format": ".1f", "labelExpr": "indexof(['0.2','0.4','0.6','0.8'], datum.label) >= 0 ? datum.label : ''", "tickSize": -4, "labelPadding": 24, "title": "β₂", "titleFontSize": 22, "titleFontStyle": "italic", "titlePadding": 18}},
         "y": {"field": "y", "type": "quantitative", "scale": {"domain": [-4.3, 28.5], "nice": false, "zero": false}, "axis": null}},
       "layer": [
        {"transform": [{"filter": "datum.k === 'b'"}], "mark": {"type": "line", "color": "black", "strokeWidth": 1.8, "clip": true}},
        {"transform": [{"filter": "datum.k === 'm'"}], "mark": {"type": "line", "color": "black", "strokeWidth": 1.3, "strokeDash": [5, 1.2], "clip": true}},
        {"transform": [{"filter": "datum.k === 't'"}], "mark": {"type": "line", "color": "black", "strokeWidth": 1.8, "strokeDash": [8, 5], "clip": true}},
        {"transform": [{"filter": "datum.k === 'f'"}], "mark": {"type": "point", "shape": "circle", "filled": true, "color": "black", "size": 45, "opacity": 1}},
        {"transform": [{"filter": "datum.k === 'o'"}], "mark": {"type": "point", "shape": "circle", "fill": "white", "stroke": "black", "strokeWidth": 1.6, "size": 40, "opacity": 1}}
       ]},
      {"transform": [{"filter": "datum.k === 'meta'"}], "mark": {"type": "text", "align": "left", "baseline": "middle", "font": "Liberation Serif, DejaVu Serif", "fontSize": 17, "color": "black"}, "encoding": {"x": {"datum": 0.17}, "y": {"datum": 25.5, "axis": null}, "text": {"field": "title"}}},
      {"transform": [{"filter": "datum.k === 'meta'"}], "mark": {"type": "text", "align": "center", "baseline": "middle", "font": "Liberation Serif", "fontSize": 18, "color": "black"}, "encoding": {"x": {"datum": 0.66}, "y": {"datum": 0.5, "axis": null}, "text": {"field": "tag"}}}
     ]},
    {"width": 175, "height": 128, "transform": [{"filter": "datum.p === 'i'"}],
     "layer": [
      {"encoding": {
         "x": {"field": "x", "type": "quantitative", "scale": {"domain": [0.085, 0.892], "nice": false, "zero": false},
           "axis": {"values": [0.2,0.3,0.4,0.5,0.6,0.7,0.8], "format": ".1f", "labelExpr": "indexof(['0.2','0.4','0.6','0.8'], datum.label) >= 0 ? datum.label : ''", "tickSize": -4, "labelPadding": 24, "title": null}},
         "y": {"field": "y", "type": "quantitative", "scale": {"domain": [-4.3, 28.5], "nice": false, "zero": false}, "axis": null}},
       "layer": [
        {"transform": [{"filter": "datum.k === 'b'"}], "mark": {"type": "line", "color": "black", "strokeWidth": 1.8, "clip": true}},
        {"transform": [{"filter": "datum.k === 'm'"}], "mark": {"type": "line", "color": "black", "strokeWidth": 1.3, "strokeDash": [5, 1.2], "clip": true}},
        {"transform": [{"filter": "datum.k === 't'"}], "mark": {"type": "line", "color": "black", "strokeWidth": 1.8, "strokeDash": [8, 5], "clip": true}},
        {"transform": [{"filter": "datum.k === 'f'"}], "mark": {"type": "point", "shape": "circle", "filled": true, "color": "black", "size": 45, "opacity": 1}},
        {"transform": [{"filter": "datum.k === 'o'"}], "mark": {"type": "point", "shape": "circle", "fill": "white", "stroke": "black", "strokeWidth": 1.6, "size": 40, "opacity": 1}}
       ]},
      {"transform": [{"filter": "datum.k === 'meta'"}], "mark": {"type": "text", "align": "left", "baseline": "middle", "font": "Liberation Serif, DejaVu Serif", "fontSize": 17, "color": "black"}, "encoding": {"x": {"datum": 0.155}, "y": {"datum": 25.5, "axis": null}, "text": {"field": "title"}}},
      {"transform": [{"filter": "datum.k === 'meta'"}], "mark": {"type": "text", "align": "center", "baseline": "middle", "font": "Liberation Serif", "fontSize": 18, "color": "black"}, "encoding": {"x": {"datum": 0.71}, "y": {"datum": 0.5, "axis": null}, "text": {"field": "tag"}}}
     ]}
  ],
  "config": {
    "view": {"stroke": "black", "strokeWidth": 2.2},
    "axis": {"labelFont": "Liberation Serif", "labelFontSize": 17, "labelColor": "black", "tickColor": "black", "tickWidth": 2, "domain": false, "grid": false, "titleFont": "Liberation Serif", "titleFontSize": 18, "titleFontWeight": "normal", "titleColor": "black"}
  }
}
